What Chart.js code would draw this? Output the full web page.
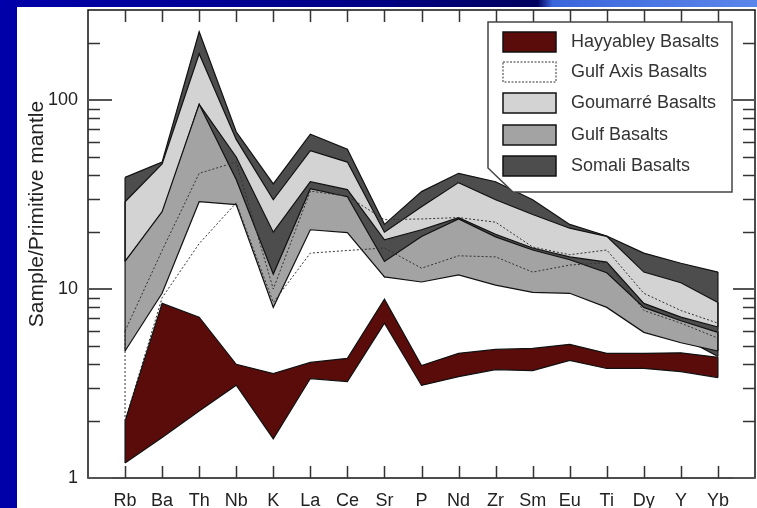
<!DOCTYPE html>
<html>
<head>
<meta charset="utf-8">
<script src="https://cdn.jsdelivr.net/npm/chart.js@4.4.0/dist/chart.umd.min.js"></script>
<style>
    html, body { margin: 0; padding: 0; }
    body { width: 757px; height: 508px; position: relative; overflow: hidden; background: #0000a8; }
    #topbar { position: absolute; left: 0; top: 0; width: 757px; height: 7px;
        background: linear-gradient(to right, #0000aa 0%, #000084 50%, #00005e 71%, #3a66dc 73%, #5b86ea 100%); }
    #sheet { position: absolute; left: 17px; top: 7px; right: 0; bottom: 0; background: #fff; }
    #wrap { position: absolute; left: 0; top: 0; width: 757px; height: 508px; }
</style>
</head>
<body>
<div id="topbar"></div>
<div id="sheet"></div>
<div id="wrap"><canvas id="myChart"></canvas></div>
<script>
// elements on the x axis
const elements = ['Rb', 'Ba', 'Th', 'Nb', 'K', 'La', 'Ce', 'Sr', 'P', 'Nd', 'Zr', 'Sm', 'Eu', 'Ti', 'Dy', 'Y', 'Yb'];

// each basalt group is a band: upper and lower envelope (sample / primitive mantle)
const somaliHigh   = [39, 47, 230, 68, 36, 66, 55, 22, 32.8, 41, 37, 29.7, 22, 19.1, 15.5, 13.7, 12.3];
const somaliLow    = [14, 25, 60, 28, 11.5, 30, 28, 11.6, 15, 20, 16, 13, 12, 11, 6.5, 5.6, 4.4];
const goumarreHigh = [29, 46, 176, 62, 29.7, 54, 47, 20, 27.3, 36.6, 29.7, 24.8, 21, 19, 12.3, 10.8, 8.5];
const goumarreLow  = [14, 25, 95, 50, 20, 37, 33.6, 18.2, 20.6, 23.9, 19.5, 16.5, 14.8, 13.9, 8.4, 7.1, 6.3];
const gulfHigh     = [14, 25.7, 95, 38, 12, 34, 30.8, 14, 19, 23.5, 18.9, 16.1, 14.3, 12.2, 8.0, 6.8, 5.9];
const gulfLow      = [4.7, 9.5, 29, 28, 8, 20.6, 19.9, 11.6, 10.9, 11.9, 10.5, 9.6, 9.5, 8.0, 5.9, 5.2, 4.7];
const axisHigh     = [6, 16, 41, 47, 10, 33, 31, 23.3, 23.5, 23.9, 22.6, 16.7, 15.2, 16.1, 9.5, 7.7, 6.6];
const axisLow      = [2, 9, 17.4, 28.6, 8.5, 15.5, 16, 16.5, 12.9, 15, 14.8, 12.3, 13.4, 13.8, 7.7, 6.6, 5.5];
const hayHigh      = [2.0, 8.4, 7.1, 4.0, 3.57, 4.09, 4.3, 8.85, 3.94, 4.57, 4.79, 4.85, 5.1, 4.57, 4.57, 4.6, 4.35];
const hayLow       = [1.2, 1.64, 2.26, 3.1, 1.61, 3.36, 3.24, 6.6, 3.09, 3.44, 3.75, 3.7, 4.19, 3.8, 3.8, 3.66, 3.4];

const yTicks = [1, 10, 100];
const yMinorTicks = [2, 3, 4, 5, 6, 7, 8, 9, 20, 30, 40, 50, 60, 70, 80, 90, 200];

const legendLabels = ['Hayyabley Basalts', 'Gulf Axis Basalts', 'Goumarré Basalts', 'Gulf Basalts', 'Somali Basalts'];
const legendColors = ['#5a0c0a', '#ffffff', '#d3d3d3', '#a3a3a3', '#4d4d4d'];

const FONT = '"Liberation Sans", Arial, sans-serif';

function pts(arr) {
    return arr.map((v, i) => ({ x: i, y: v }));
}

function band(high, low, color, order, dashed) {
    const line = {
        pointRadius: 0,
        tension: 0,
        borderColor: dashed ? '#333' : '#111',
        borderWidth: dashed ? 1 : 1.2,
        borderDash: dashed ? [2, 2] : []
    };
    return [
        Object.assign({ data: pts(high), fill: color ? '+1' : false, backgroundColor: color || 'transparent', order: order }, line),
        Object.assign({ data: pts(low), fill: false, order: order - 1 }, line)
    ];
}

const bandList = [
    { high: somaliHigh, low: somaliLow, dashed: false },
    { high: goumarreHigh, low: goumarreLow, dashed: false },
    { high: gulfHigh, low: gulfLow, dashed: false },
    { high: axisHigh, low: axisLow, dashed: true },
    { high: hayHigh, low: hayLow, dashed: false }
];

const framePlugin = {
    id: 'frame',
    afterDatasetsDraw(chart) {
        // close the bands at both ends
        const ctx = chart.ctx, xs = chart.scales.x, ys = chart.scales.y;
        ctx.save();
        bandList.forEach(b => {
            ctx.strokeStyle = b.dashed ? '#333' : '#111';
            ctx.lineWidth = b.dashed ? 1 : 1.2;
            ctx.setLineDash(b.dashed ? [2, 2] : []);
            [0, elements.length - 1].forEach(i => {
                const x = xs.getPixelForValue(i);
                ctx.beginPath();
                ctx.moveTo(x, ys.getPixelForValue(b.high[i]));
                ctx.lineTo(x, ys.getPixelForValue(b.low[i]));
                ctx.stroke();
            });
        });
        ctx.restore();
    },
    afterDraw(chart) {
        const ctx = chart.ctx, a = chart.chartArea;
        const xs = chart.scales.x, ys = chart.scales.y;
        ctx.save();
        ctx.strokeStyle = '#111';
        ctx.lineWidth = 1.5;
        ctx.strokeRect(a.left, a.top, a.right - a.left, a.bottom - a.top);

        // x ticks, inside, bottom and top
        ctx.lineWidth = 1.5;
        ctx.strokeStyle = '#333';
        elements.forEach((e, i) => {
            const x = Math.round(xs.getPixelForValue(i)) + 0.5;
            ctx.beginPath();
            ctx.moveTo(x, a.bottom); ctx.lineTo(x, a.bottom - 12);
            ctx.moveTo(x, a.top); ctx.lineTo(x, a.top + 12);
            ctx.stroke();
        });
        // y ticks, inside, left and right
        yMinorTicks.forEach(v => {
            const y = Math.round(ys.getPixelForValue(v)) + 0.5;
            ctx.beginPath();
            ctx.moveTo(a.left, y); ctx.lineTo(a.left + 12, y);
            ctx.moveTo(a.right, y); ctx.lineTo(a.right - 12, y);
            ctx.stroke();
        });
        ctx.lineWidth = 2;
        ctx.strokeStyle = '#555';
        yTicks.forEach(v => {
            const y = Math.round(ys.getPixelForValue(v));
            ctx.beginPath();
            ctx.moveTo(a.left, y); ctx.lineTo(a.left + 24, y);
            ctx.moveTo(a.right, y); ctx.lineTo(a.right - 22, y);
            ctx.stroke();
        });

        // y axis title
        ctx.save();
        ctx.translate(37, 214);
        ctx.rotate(-Math.PI / 2);
        ctx.fillStyle = '#222';
        ctx.font = '21px ' + FONT;
        ctx.textAlign = 'center';
        ctx.textBaseline = 'middle';
        ctx.fillText('Sample/Primitive mantle', 0, 0);
        ctx.restore();

        // legend box
        ctx.fillStyle = '#fff';
        ctx.strokeStyle = '#444';
        ctx.lineWidth = 1.5;
        ctx.setLineDash([]);
        ctx.beginPath();
        ctx.moveTo(488, 22); ctx.lineTo(732, 22); ctx.lineTo(732, 192);
        ctx.lineTo(513, 192); ctx.lineTo(488, 168); ctx.closePath();
        ctx.fill(); ctx.stroke();

        const rowTop = [32, 62, 93, 125, 156];
        ctx.font = '18px ' + FONT;
        ctx.textBaseline = 'middle';
        ctx.textAlign = 'left';
        legendLabels.forEach((lab, i) => {
            const y = rowTop[i];
            ctx.fillStyle = legendColors[i];
            ctx.fillRect(503, y, 53, 20);
            if (i === 1) {
                ctx.setLineDash([2, 1.5]);
                ctx.strokeStyle = '#777';
                ctx.lineWidth = 1.5;
            } else {
                ctx.setLineDash([]);
                ctx.strokeStyle = '#111';
                ctx.lineWidth = 1.5;
            }
            ctx.strokeRect(503, y, 53, 20);
            ctx.setLineDash([]);
            ctx.fillStyle = '#333';
            ctx.fillText(lab, 571, y + 10);
        });
        ctx.restore();
    }
};

let datasets = [];
bandList.forEach((b, k) => {
    const colors = ['#4d4d4d', '#d3d3d3', '#a3a3a3', null, '#5a0c0a'];
    datasets = datasets.concat(band(b.high, b.low, colors[k], 20 - k * 2, b.dashed));
});

const ctx = document.getElementById('myChart').getContext('2d');
const myChart = new Chart(ctx, {
    type: 'line',
    data: { datasets: datasets },
    options: {
        responsive: true,
        maintainAspectRatio: false,
        animation: false,
        layout: { padding: { top: 10, right: 2, left: 0, bottom: 0 } },
        plugins: { legend: { display: false }, tooltip: { enabled: false } },
        scales: {
            x: {
                type: 'linear',
                min: -1,
                max: 17,
                afterBuildTicks: s => { s.ticks = elements.map((e, i) => ({ value: i })); },
                afterFit: s => { s.height = 30; s.paddingLeft = 0; s.paddingRight = 0; },
                grid: { display: false, drawTicks: false },
                border: { display: false },
                ticks: {
                    autoSkip: false,
                    maxRotation: 0,
                    padding: 12,
                    color: '#222',
                    font: { size: 18, family: FONT },
                    callback: v => elements[v] || ''
                }
            },
            y: {
                type: 'logarithmic',
                min: 1,
                max: 300,
                afterBuildTicks: s => { s.ticks = yTicks.map(v => ({ value: v })); },
                afterFit: s => { s.width = 88; s.paddingTop = 0; s.paddingBottom = 0; },
                grid: { display: false, drawTicks: false },
                border: { display: false },
                ticks: {
                    padding: 10,
                    color: '#222',
                    font: { size: 18, family: FONT },
                    callback: v => String(v)
                }
            }
        }
    },
    plugins: [framePlugin]
});
</script>
</body>
</html>
